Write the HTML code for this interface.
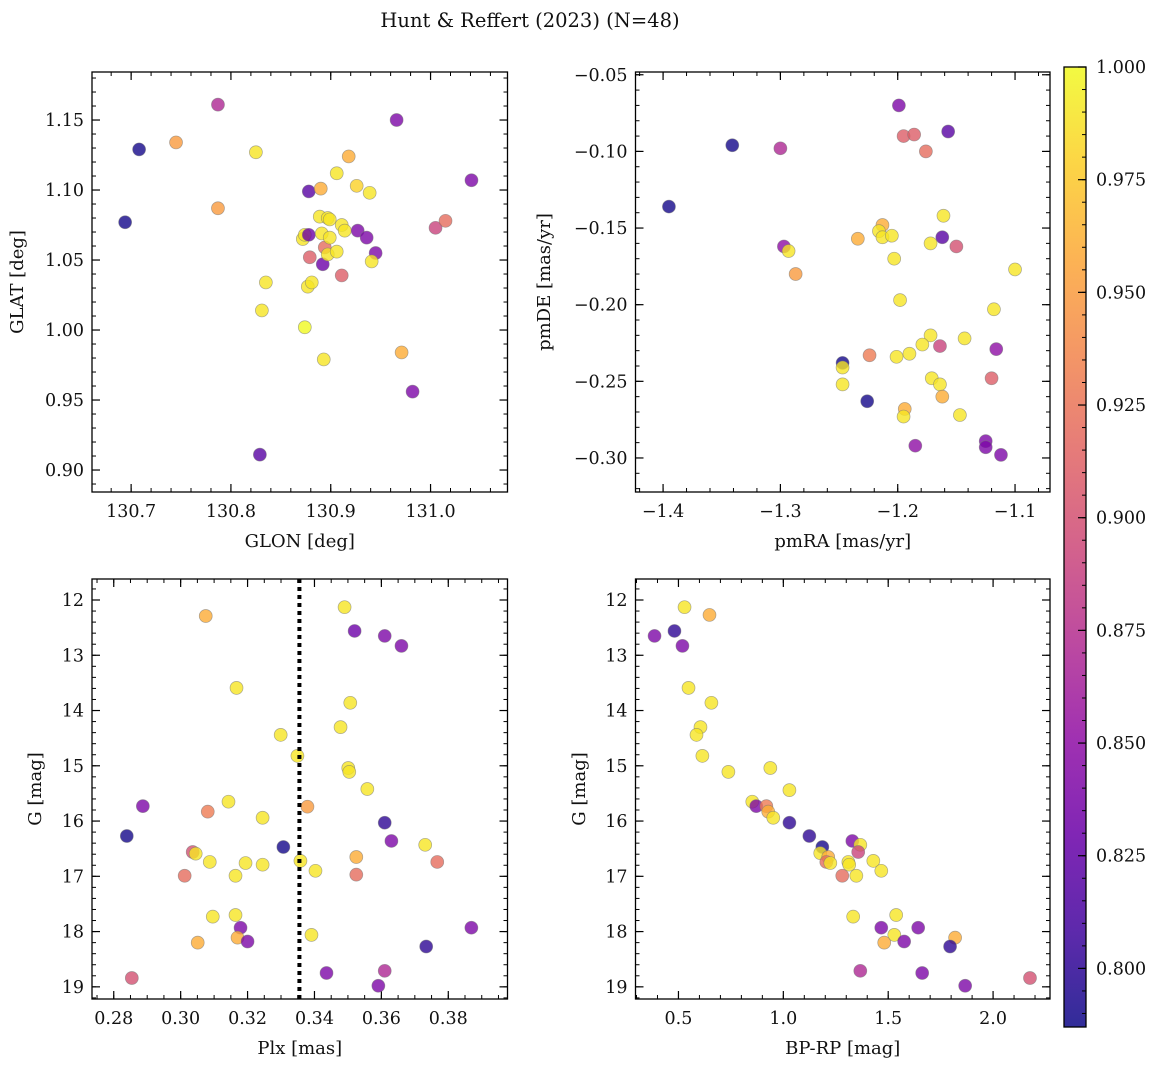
<!DOCTYPE html>
<html><head><meta charset="utf-8">
<style>
html,body{margin:0;padding:0;background:#fff;}
svg{display:block;font-family:"DejaVu Serif","Liberation Serif",serif;}
</style></head>
<body>
<svg id="fig" width="1161" height="1067" viewBox="0 0 1161 1067" xmlns="http://www.w3.org/2000/svg">
<text x="530" y="27" text-anchor="middle" font-size="19.5" fill="#111">Hunt &amp; Reffert (2023) (N=48)</text>
</svg>
<script>
// ---- Panel 1: GLON vs GLAT ----
const p1x=[130.694,130.708,130.745,130.787,130.787,130.825,130.829,130.831,130.835,130.874,130.872,130.874,130.878,130.878,130.879,130.877,130.881,130.890,130.889,130.891,130.892,130.894,130.897,130.899,130.899,130.897,130.906,130.911,130.914,130.893,130.906,130.918,130.926,130.911,130.927,130.936,130.939,130.945,130.941,130.971,130.966,130.982,131.005,131.015,131.041];
const p1y=[1.077,1.129,1.134,1.161,1.087,1.127,0.911,1.014,1.034,1.002,1.065,1.068,1.099,1.068,1.052,1.031,1.034,1.101,1.081,1.069,1.047,1.059,1.080,1.079,1.066,1.054,1.056,1.075,1.071,0.979,1.112,1.124,1.103,1.039,1.071,1.066,1.098,1.055,1.049,0.984,1.150,0.956,1.073,1.078,1.107];
const p1c=[0.79,0.79,0.95,0.87,0.95,0.99,0.82,0.99,0.99,1.0,0.99,0.99,0.82,0.83,0.91,0.99,0.99,0.96,0.99,0.99,0.83,0.92,0.99,0.99,0.99,0.99,0.99,0.99,0.99,0.99,0.99,0.96,0.98,0.91,0.84,0.84,0.99,0.84,0.99,0.96,0.84,0.84,0.89,0.92,0.84];
// ---- Panel 2: pmRA vs pmDE ----
const p2x=[-1.395,-1.341,-1.300,-1.199,-1.195,-1.186,-1.176,-1.157,-1.297,-1.293,-1.287,-1.234,-1.213,-1.216,-1.213,-1.205,-1.203,-1.198,-1.161,-1.172,-1.162,-1.150,-1.100,-1.118,-1.143,-1.172,-1.179,-1.190,-1.201,-1.164,-1.171,-1.164,-1.162,-1.194,-1.195,-1.147,-1.247,-1.247,-1.247,-1.226,-1.224,-1.120,-1.116,-1.125,-1.125,-1.112,-1.185];
const p2y=[-0.136,-0.096,-0.098,-0.070,-0.090,-0.089,-0.100,-0.087,-0.162,-0.165,-0.180,-0.157,-0.148,-0.152,-0.156,-0.155,-0.170,-0.197,-0.142,-0.160,-0.156,-0.162,-0.177,-0.203,-0.222,-0.220,-0.226,-0.232,-0.234,-0.227,-0.248,-0.252,-0.260,-0.268,-0.273,-0.272,-0.238,-0.241,-0.252,-0.263,-0.233,-0.248,-0.229,-0.289,-0.293,-0.298,-0.292];
const p2c=[0.79,0.79,0.87,0.84,0.91,0.91,0.92,0.82,0.85,0.99,0.95,0.96,0.96,0.99,0.99,0.99,0.99,0.99,0.99,0.99,0.82,0.90,0.99,0.99,0.99,0.99,0.99,0.99,0.99,0.89,0.99,0.99,0.96,0.96,0.99,0.99,0.79,0.99,0.99,0.79,0.93,0.91,0.85,0.84,0.84,0.84,0.85];
// ---- Panel 3: Plx vs G ----
const p3x=[0.3075,0.349,0.352,0.361,0.366,0.3167,0.3507,0.3299,0.3478,0.3349,0.3501,0.3504,0.3558,0.2887,0.3143,0.3081,0.3379,0.3245,0.361,0.2839,0.3307,0.363,0.3731,0.3036,0.3045,0.3087,0.3358,0.3525,0.3194,0.3245,0.3767,0.3164,0.3012,0.3403,0.3525,0.3096,0.3164,0.3179,0.3391,0.317,0.32,0.3051,0.3734,0.3869,0.2854,0.3436,0.361,0.3591];
const p3y=[12.29,12.13,12.56,12.65,12.83,13.59,13.86,14.44,14.30,14.82,15.04,15.11,15.42,15.73,15.65,15.83,15.74,15.94,16.03,16.27,16.47,16.36,16.43,16.56,16.59,16.74,16.72,16.65,16.76,16.79,16.74,16.99,16.99,16.90,16.97,17.73,17.70,17.93,18.06,18.11,18.18,18.20,18.27,17.93,18.84,18.75,18.71,18.98];
const p3c=[0.96,0.99,0.83,0.84,0.84,0.99,0.99,0.99,0.99,0.99,0.99,0.99,0.99,0.84,0.99,0.93,0.95,0.99,0.80,0.79,0.79,0.84,0.99,0.90,0.99,0.99,0.99,0.96,0.99,0.99,0.92,0.99,0.92,0.99,0.92,0.99,0.99,0.84,0.99,0.96,0.84,0.96,0.80,0.84,0.90,0.84,0.87,0.84];
// ---- Panel 4: BP-RP vs G ----
const p4x=[0.529,0.648,0.386,0.481,0.519,0.548,0.657,0.605,0.586,0.614,0.738,0.938,0.852,0.871,0.919,0.928,0.952,1.029,1.029,1.124,1.186,1.329,1.367,1.357,1.176,1.214,1.205,1.224,1.310,1.314,1.281,1.348,1.429,1.467,1.333,1.538,1.529,1.467,1.643,1.481,1.576,1.819,1.795,1.367,1.662,1.867,2.176];
const p4y=[12.13,12.27,12.65,12.56,12.83,13.59,13.86,14.30,14.44,14.82,15.11,15.04,15.65,15.73,15.73,15.83,15.94,15.44,16.03,16.27,16.47,16.36,16.43,16.56,16.58,16.65,16.74,16.76,16.74,16.79,16.99,16.99,16.72,16.90,17.73,17.70,18.06,17.93,17.93,18.20,18.18,18.11,18.27,18.71,18.75,18.98,18.84];
const p4c=[0.99,0.96,0.84,0.80,0.84,0.99,0.99,0.99,0.99,0.99,0.99,0.99,0.99,0.84,0.93,0.96,0.99,0.99,0.80,0.80,0.79,0.84,0.99,0.89,0.99,0.96,0.92,0.99,0.99,0.99,0.92,0.99,0.99,0.99,0.99,0.99,0.99,0.84,0.84,0.96,0.84,0.96,0.80,0.87,0.84,0.84,0.90];
const plxRef=[0.3355];
const cbTicks=[0.800,0.825,0.850,0.875,0.900,0.925,0.950,0.975,1.000];
const cMin=0.787, cMax=1.0;

const NS="http://www.w3.org/2000/svg";
const svg=document.getElementById('fig');
function mk(tag,attrs,parent){const e=document.createElementNS(NS,tag);for(const k in attrs)e.setAttribute(k,attrs[k]);(parent||svg).appendChild(e);return e;}
const stops=[[0,'#0d0887'],[0.1,'#41049d'],[0.2,'#6a00a8'],[0.3,'#8f0da4'],[0.4,'#b12a90'],[0.5,'#cc4778'],[0.6,'#e16462'],[0.7,'#f2844b'],[0.8,'#fca636'],[0.9,'#fcce25'],[1,'#f0f921']];
function hex(h){return [1,3,5].map(i=>parseInt(h.substr(i,2),16));}
function plasma(t){t=Math.max(0,Math.min(1,t));for(let i=1;i<stops.length;i++){if(t<=stops[i][0]){const a=stops[i-1],b=stops[i];const f=(t-a[0])/(b[0]-a[0]);const ca=hex(a[1]),cb=hex(b[1]);return 'rgb('+ca.map((v,j)=>Math.round(v+(cb[j]-v)*f)).join(',')+')';}}return stops[10][1];}
function fmt(v,d){let s=v.toFixed(d);if(v<0)s='\u2212'+s.slice(1);return s;}

function panel(o){
  const g=mk('g',{});
  
  
  const sx=v=>o.L+(v-o.x0)/(o.x1-o.x0)*(o.R-o.L);
  const sy=o.invY? (v=>o.T+(v-o.y0)/(o.y1-o.y0)*(o.B-o.T)) : (v=>o.B-(v-o.y0)/(o.y1-o.y0)*(o.B-o.T));
  const eps=1e-9;
  function ticks(a0,a1,step){const r=[];let s=Math.ceil((Math.min(a0,a1)-eps)/step);for(let v=s*step;v<=Math.max(a0,a1)+eps;v=(++s)*step)r.push(v);return r;}
  ticks(o.x0,o.x1,o.xminor).forEach(v=>{const x=sx(v);mk('line',{x1:x,x2:x,y1:o.B,y2:o.B-4,stroke:'#000','stroke-width':1},g);mk('line',{x1:x,x2:x,y1:o.T,y2:o.T+4,stroke:'#000','stroke-width':1},g);});
  ticks(o.y0,o.y1,o.yminor).forEach(v=>{const y=sy(v);mk('line',{x1:o.L,x2:o.L+4,y1:y,y2:y,stroke:'#000','stroke-width':1},g);mk('line',{x1:o.R,x2:o.R-4,y1:y,y2:y,stroke:'#000','stroke-width':1},g);});
  ticks(o.x0,o.x1,o.xmajor).forEach(v=>{const x=sx(v);mk('line',{x1:x,x2:x,y1:o.B,y2:o.B-8,stroke:'#000','stroke-width':1.2},g);mk('line',{x1:x,x2:x,y1:o.T,y2:o.T+8,stroke:'#000','stroke-width':1.2},g);
    const t=mk('text',{x:x,y:o.B+25,'text-anchor':'middle','font-size':17.5,fill:'#111'},g);t.textContent=fmt(v,o.xd);
    
    });
  ticks(o.y0,o.y1,o.ymajor).forEach(v=>{const y=sy(v);mk('line',{x1:o.L,x2:o.L+8,y1:y,y2:y,stroke:'#000','stroke-width':1.2},g);mk('line',{x1:o.R,x2:o.R-8,y1:y,y2:y,stroke:'#000','stroke-width':1.2},g);
    const t=mk('text',{x:o.L-8,y:y+6,'text-anchor':'end','font-size':17.5,fill:'#111'},g);t.textContent=fmt(v,o.yd);
    
    });
  for(let i=0;i<o.xs.length;i++){
    const c=mk('circle',{cx:sx(o.xs[i]),cy:sy(o.ys[i]),r:6.5,fill:plasma((o.cs[i]-cMin)/(cMax-cMin)),'fill-opacity':0.8,stroke:'#777','stroke-opacity':0.6,'stroke-width':0.7},g);
    
    
  }
  if(o.vline){o.vline.forEach(v=>{const l=mk('line',{x1:sx(v),x2:sx(v),y1:o.T,y2:o.B,stroke:'#000','stroke-width':4,'stroke-dasharray':'4 4'},g);
    
    });}
  const fr=mk('rect',{x:o.L,y:o.T,width:o.R-o.L,height:o.B-o.T,fill:'none',stroke:'#000','stroke-width':1.3},g);
  
  
  const xl=mk('text',{x:(o.L+o.R)/2,y:o.B+55,'text-anchor':'middle','font-size':18,fill:'#111'},g);xl.textContent=o.xlab;
  
  
  const yl=mk('text',{x:0,y:0,'text-anchor':'middle','font-size':18,fill:'#111',transform:'translate('+o.ylx+','+(o.T+o.B)/2+') rotate(-90)'},g);yl.textContent=o.ylab;
  
  
}
panel({name:'glon-glat-panel',L:92,R:507.5,T:72,B:492,x0:130.6608,x1:131.0771,y0:0.8843,y1:1.1843,invY:false,xmajor:0.1,xminor:0.02,ymajor:0.05,yminor:0.01,xd:1,yd:2,xs:p1x,ys:p1y,cs:p1c,xlab:'GLON [deg]',ylab:'GLAT [deg]',ylx:23});
panel({name:'proper-motion-panel',L:635.5,R:1050,T:72,B:492,x0:-1.4235,x1:-1.0702,y0:-0.3222,y1:-0.0482,invY:false,xmajor:0.1,xminor:0.02,ymajor:0.05,yminor:0.01,xd:1,yd:2,xs:p2x,ys:p2y,cs:p2c,xlab:'pmRA [mas/yr]',ylab:'pmDE [mas/yr]',ylx:550});
panel({name:'parallax-magnitude-panel',L:92,R:507.5,T:579,B:999,x0:0.2735,x1:0.3977,y0:11.62,y1:19.22,invY:true,xmajor:0.02,xminor:0.005,ymajor:1,yminor:0.2,xd:2,yd:0,xs:p3x,ys:p3y,cs:p3c,xlab:'Plx [mas]',ylab:'G [mag]',ylx:41,vline:plxRef});
panel({name:'cmd-panel',L:635.5,R:1050,T:579,B:999,x0:0.2952,x1:2.2714,y0:11.62,y1:19.22,invY:true,xmajor:0.5,xminor:0.1,ymajor:1,yminor:0.2,xd:1,yd:0,xs:p4x,ys:p4y,cs:p4c,xlab:'BP-RP [mag]',ylab:'G [mag]',ylx:585});

(function(){
  const L=1064,R=1086,T=67,B=1027;
  const g=mk('g',{});
  
  
  const defs=mk('defs',{},g);
  const lg=mk('linearGradient',{id:'cbg',x1:0,y1:1,x2:0,y2:0},defs);
  stops.forEach(s=>mk('stop',{offset:s[0],'stop-color':s[1]},lg));
  mk('rect',{x:L,y:T,width:R-L,height:B-T,fill:'url(#cbg)','fill-opacity':0.85},g);
  const sy=v=>B-(v-cMin)/(cMax-cMin)*(B-T);
  for(let k=0;k<=45;k++){const v=0.79+k*0.005;if(v>cMax+1e-9)break;const y=sy(v);mk('line',{x1:R,x2:R-4,y1:y,y2:y,stroke:'#000','stroke-width':1},g);}
  cbTicks.forEach(v=>{const y=sy(v);mk('line',{x1:R,x2:R-8,y1:y,y2:y,stroke:'#000','stroke-width':1.2},g);
    const t=mk('text',{x:R+10,y:y+6,'font-size':17.5,fill:'#111'},g);t.textContent=v.toFixed(3);
    
    });
  mk('rect',{x:L,y:T,width:R-L,height:B-T,fill:'none',stroke:'#000','stroke-width':1.3},g);
})();
</script>
</body></html>
